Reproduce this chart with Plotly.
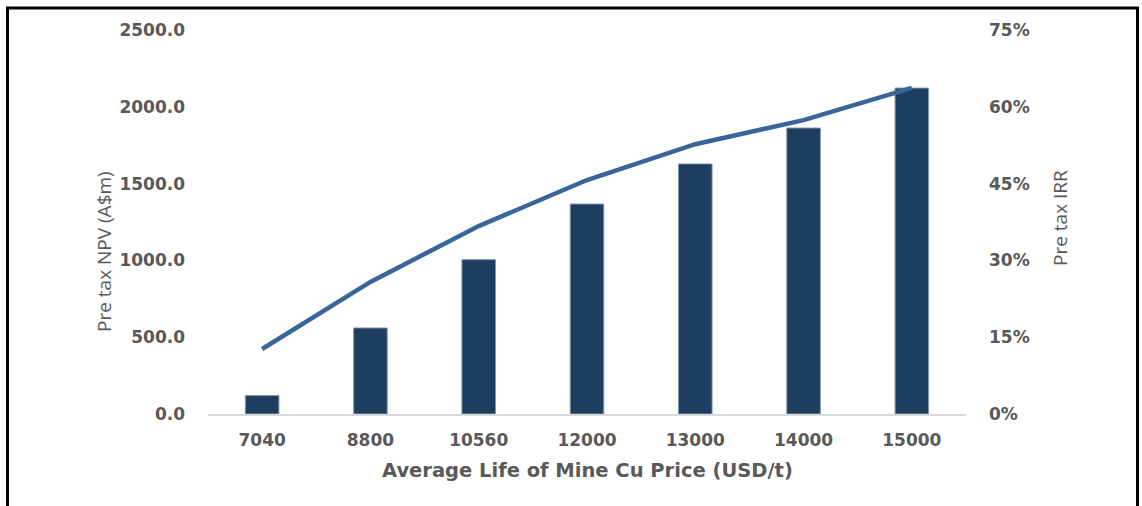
import plotly.graph_objects as go

prices = ["7040", "8800", "10560", "12000", "13000", "14000", "15000"]
npv = [120, 560, 1005, 1367, 1628, 1862, 2122]
irr = [0.127, 0.258, 0.367, 0.457, 0.527, 0.574, 0.637]

W, H = 1142, 506
L, R, T, B = 208, 966, 30, 414

def px(x):
    return (x - L) / (R - L)

def py(y):
    return (B - y) / (B - T)

fig = go.Figure()
fig.add_trace(go.Bar(x=prices, y=npv, marker=dict(color="#1E3E5F", line=dict(color="#8597AC", width=1)),
                     width=0.31, yaxis="y"))
fig.add_trace(go.Scatter(x=prices, y=irr, mode="lines", line=dict(color="#3A6599", width=4.5),
                         yaxis="y2"))

tickfont = dict(family="DejaVu Sans", size=17, color="#595959", weight="bold")
fig.update_layout(
    width=W, height=H,
    margin=dict(l=L, r=W - R, t=T, b=H - B),
    paper_bgcolor="white", plot_bgcolor="white",
    showlegend=False,
    xaxis=dict(type="category", showgrid=False, showline=True, linecolor="#D9D9D9", linewidth=1.5,
               ticks="", tickfont=dict(family="DejaVu Sans", size=17, color="#595959", weight="bold"),
               ticklabelstandoff=10),
    yaxis=dict(range=[0, 2500], dtick=500, tickformat=".1f", showgrid=False, zeroline=False,
               ticks="", tickfont=tickfont, ticklabelstandoff=22, fixedrange=True),
    yaxis2=dict(range=[0, 0.75], dtick=0.15, tickformat=".0%", overlaying="y", side="right",
                showgrid=False, zeroline=False, ticks="", tickfont=tickfont, ticklabelstandoff=22),
    shapes=[dict(type="rect", xref="paper", yref="paper", x0=px(7.5), x1=px(1137.5), y0=py(530), y1=py(8),
                 line=dict(color="black", width=3), fillcolor="rgba(0,0,0,0)", layer="above")],
    annotations=[
        dict(text="Average Life of Mine Cu Price (USD/t)", xref="paper", yref="paper",
             x=px(587), y=py(470), showarrow=False, xanchor="center", yanchor="middle",
             font=dict(family="DejaVu Sans", size=19.5, color="#595959", weight="bold")),
        dict(text="Pre tax NPV (A$m)", xref="paper", yref="paper", textangle=-90,
             x=px(104), y=py(252), showarrow=False, xanchor="center", yanchor="middle",
             font=dict(family="Open Sans", size=19, color="#595959")),
        dict(text="Pre tax IRR", xref="paper", yref="paper", textangle=-90,
             x=px(1060), y=py(218), showarrow=False, xanchor="center", yanchor="middle",
             font=dict(family="Open Sans", size=19, color="#595959")),
    ],
)

fig.write_html("out.html", config={"displayModeBar": False},
               post_script="document.body.style.margin='0';document.body.style.padding='0';")
